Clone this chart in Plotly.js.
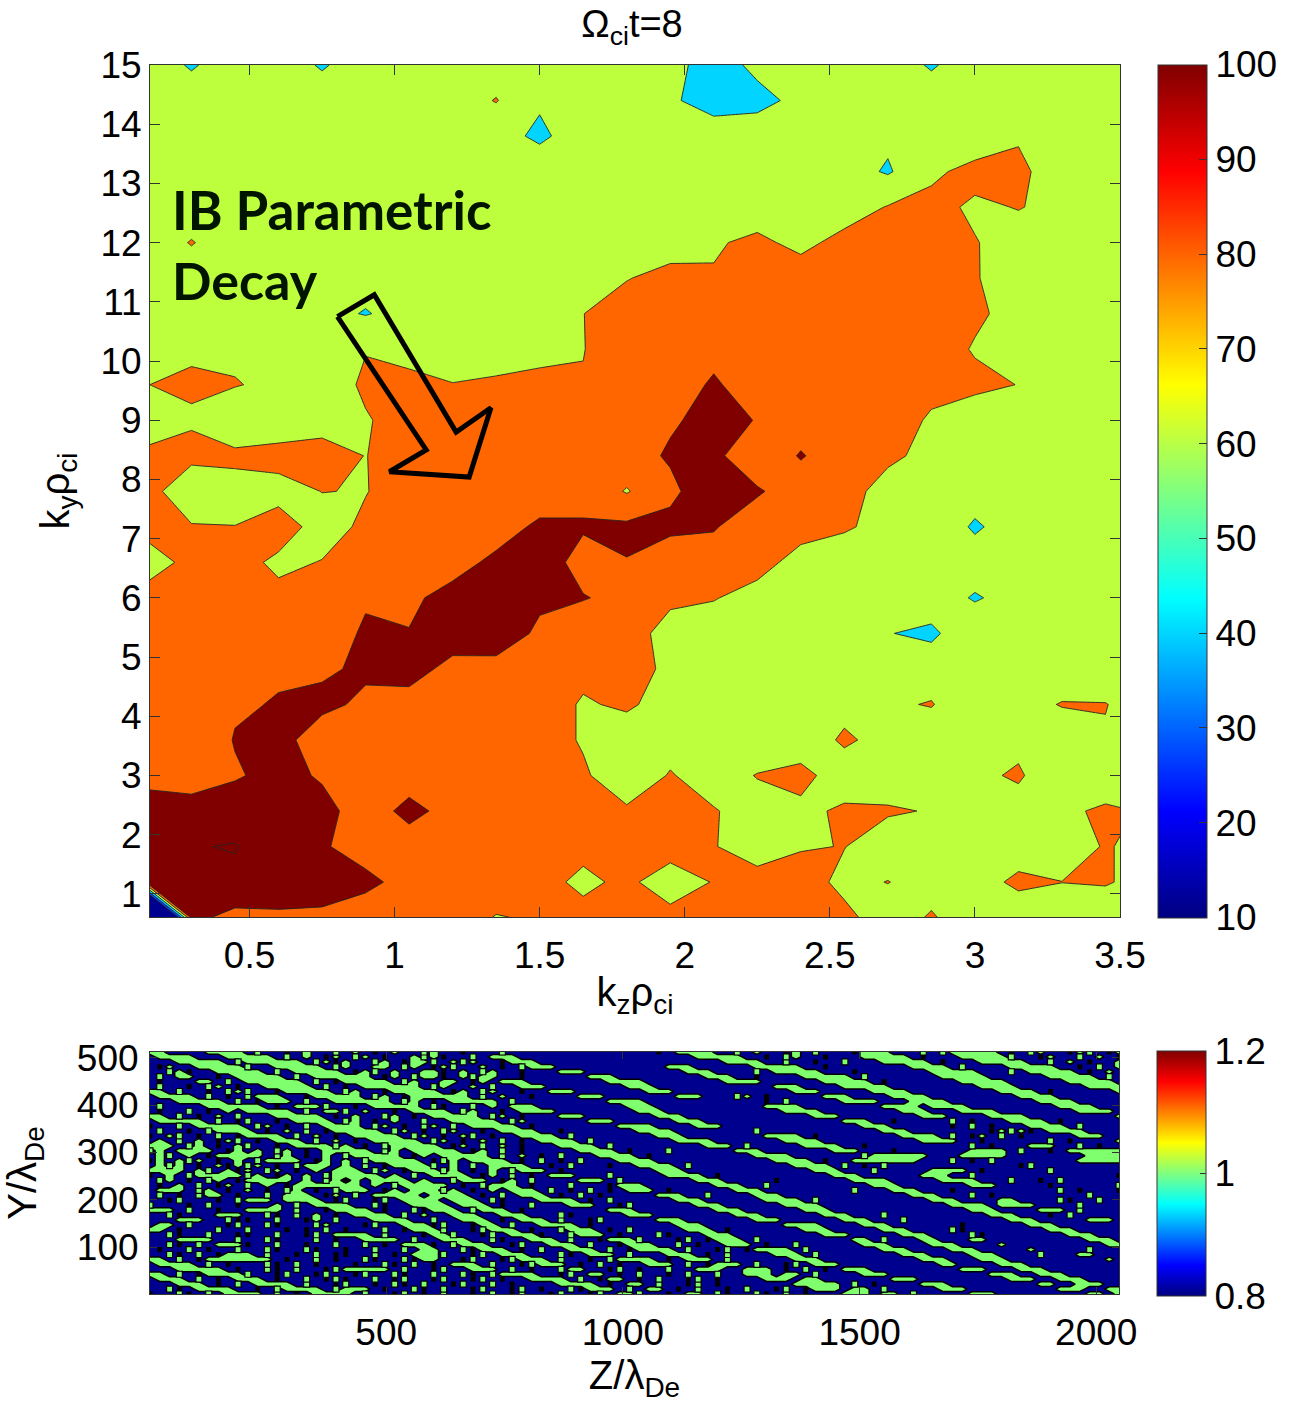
<!DOCTYPE html>
<html><head><meta charset="utf-8">
<script src="https://cdn.plot.ly/plotly-3.0.1.min.js"></script>
<style>html,body{margin:0;padding:0;background:#fff}</style></head>
<body><div id="plot" style="width:1292px;height:1403px"></div>
<script>
const kz=[0.15,0.30,0.45,0.60,0.75,0.90,1.05,1.20,1.35,1.50,1.65,1.80,1.95,2.10,2.25,2.40,2.55,2.70,2.85,3.00,3.15,3.30,3.45,3.60];
const ky=[0.6,1.2,1.8,2.4,3.0,3.6,4.2,4.8,5.4,6.0,6.6,7.2,7.8,8.4,9.0,9.6,10.2,10.8,11.4,12.0,12.6,13.2,13.8,14.4,15.0];
const spectrum=[
[-180,105,94,97.6,97,84,90,90,79,82,86,90,86,90,90,90,85,70,82,68,65,70,68,70],
[115,112,116,108,107,107,90,90,90,86,76,84,70,81,88,89,75,80.5,72,70,85,80.2,81.5,74],
[110,119,121,107,103,88,91.5,90,90,90,85,90,88.5,81,70,78.5,80.5,70,70,70,68,70,81.5,74],
[115,109,111,110,106,91,105,94,90,90,90,83,90,81.4,71,74,84,82,79,70,70,75.3,84,78],
[90,90,98,106,98,90,92,90,90,90,83,66,81.5,70,81,88,66,70,70,75,83,62,64,70],
[90,86,101,108,88,90,90,90,90,90,78,69,72,70,65,64.5,84,71,69,70,74,63,77.4,70],
[90,90,98,101,105,96,92,88,90,90,78,83,72,70,70,70,72,77.6,81,67,70,81.5,81,65],
[90,90,90,98,97,103.3,108,94,93,90,85,90,75,70,70,70,70,70,72,70,70,63,61,70],
[90,90,90,90,90,102.5,101,110,112,96.3,88,92,70,65,70,70,70,60.7,56,75,70,70,70,70],
[87,90,90,87,90,98,95,109,110,103.6,101,95,85,81.5,70,70,70,70,71,58,68,70,70,70],
[72,85,90,74.6,81,90,90,90,106,110,93,99.3,86,88,90,70,65,70,70,71,70,70,70,70],
[86,81.4,80.3,93,69,85,90,90,88,105,102,104,105,102,85,90,83,72,76,57,71,70,70,70],
[87,66,73,70,80.5,79,92,90,90,85,94,78.5,96,112,103,86,90,70,70,70,70,70,70,70],
[85,85,84,90,90,79.5,90,90,90,90,90,93,102,106,82,102,85,85,73,70,70,70,70,70],
[68,78,66,62,70,78,90,90,90,90,90,90,98,105,99.4,88,90,88,78,65,70,70,70,70],
[79.9,82.3,81,76,66,84,88,80.6,83.3,89,81,90,92,102,92,90,90,90,84.5,86,79.5,70,70,70],
[70,77.8,76.5,70,70,79,70,70,70,70,79.5,90,90,95.5,90,90,90,90,92,78,70,70,70,70],
[70,70,70,70,65,59,66,70,70,70,79.7,91,90,90,90,90,90,90,90,84,72,70,70,70],
[70,70,70,70,70,66,70,70,70,70,70,79,87,81.5,90,90,90,90,90,82,65,70,70,70],
[70,81,70,70,70,70,70,70,70,70,70,70,70,78,84,75,86,90,90,81.2,70,70,70,70],
[70,70,70,70,70,70,70,70,70,70,70,70,70,70,70,70,70.6,81,87.5,76,81,74,70,70],
[70,70,70,70,70,70,70,70,70,70,70,70,70,70,70,70,68,58,75,88,87,63,70,70],
[70,70,70,70,70,70,70,70,66,57,68,70,70,79,77,70,70,63.5,70,63,77,70,70,70],
[70,70,70,70,70,70,70,70,81,62,70,70,65,45,51,68,70,70,70,70,70,70,70,70],
[70,58,70,70,58,70,70,70,70,70,70,70,70,46,67,70,70,70,58,70,70,70,70,70]
];
const arrowKz=[0.803,0.930,1.212,1.332,1.257,0.982,1.109,0.803];
const arrowKy=[10.75,11.12,8.80,9.21,8.04,8.13,8.50,10.75];
// density map, top row first: '#' above 1, '.' below 1; ':' a black speck, ';' a green speck, both on a '.' cell
const densityRows=[
"##....#### .;..:.#..; .#.:.#..;# ..:...;... .......... ..:.####.. ;.#..:#.;. ..:###...; .;#####.:. ;#..:#;.:#",
".####...## ###.;.#.:# .;#.:..#;# :..;.###.. .......... ......#### #..:.;#..: ...#####.: ...#####;. .:#..;.#.:",
"...#####.; ######.;#: #..;#.:##; .#;#..:### .......... .........# ###..;..:. .;...##### .:...##### ..;.#.:..#",
".:#..##### ;..#####.; #..##.;#.: #;..#.:.;# ##........ ...###.... ..#####..: ........## ##.;....## ###..:.;.#",
"..;#:..### ##.;.##### .:#;.#..## :.#.;#..:. ..###..... .....###.. ..;.#####. ..:....... #####...;. #####.:.#.",
".;.##..:.# ####.;.### ###.:#.;## :.#;##..:. .....###.. .......### ..:....### ##.;...... .#####.... ..#####.;.",
".:...##.;. ######.;.: #####.;#.. ##.:#.###. .......### #........# ###......# ####.:.... ...#####.. ....#####.",
".;..:.;#.: ..#####.;. :.######.; #..#.;..## #........# ##........ ....###... .#####.... .....####. ......####",
"##.;..:.;# ;..:#####. ;#..:##### .:#.;#..:. .###...... .###...... ......###. ....####.. .......### #.:......#",
".####.;.:. ;###..:### ##.;#.:### ###.;.#..: ....###... ....###... ;#.:.....# ##....#### .........# ###.......",
"...#####.; .:###.;..# #####.;#.: .#####.;.. .......### #......... ...:.;.... .####...## ##........ .####.....",
".;....#### ##.:.###;. .:.#####.; :..;.#.### .........# ##........ ...####... .....####. ####...... ...####...",
".:..;.:.#. #####.;.## ;.#..:.### #.;#..:.## ##........ ###....... .....####. .......### ...####... .....####.",
"##.;.:.#.; ...#####.: .#..;#.:.# ####.;#.:. ..###..... ..###..... ........## #........# ##....#### .........#",
".#####.;.: ;..:.####. ;#.:.#..;. .#####.;#. .....###.. ....###... .......... .###..:... ..;.:...## ##.:......",
":..;.##### .;#.:.;.## ##.;#.:.;# .;.#####.: ........## ##....###. .......... ...###.... ..:.;.:... ####.;....",
".;..:.;### #.:.#.;.:# ####.;#.:. ;#..:.#### ..:....... ####...... ..;....... .....###.. ......:#;# :.####....",
":.#;.:.;.: ####.;.#.: .#####.;#. :.#;.:..## ##.;...... ..###..... ...####.:. .......### #.;.:#.;.: .....###..",
".#.;.#.:#; .:.###.;.# .:.#####.; #.:.#.;.:. ####.;.... ....####.. .....####. .........# ###..:.... ..;.:....#",
"###.;#.:.# ;..:.####; #.:.;##### .:#.;.#.:. ..####.;.. .......### .;.....### #..:...... ....;.:... ###..;.:..",
";#.####.:# .#.;#.:.## ###.;#.### ##.:#.;.:. ....####.: ...;...... ###....... ###...:... ....####.; ..:.######",
".#;.#.:### ##.;#.:.#. ;#####.:#. #####.;.#. :.;...#### .:........ ..####.... ...;###### ...#####.. ......####",
":#.#;#.:.# .;####.:#. #.;#####.: ;#.####.:. ;.:.;...## ##........ ....####.: ..#######. ..;.:.;... .....#####",
".#;#.:.#:# ;#.:.;###. #.;.:####; .#.;.####. .:.;...:.. ####.;.... ......#### .;.:.;.... .........: ;.........",
"####.#;.#: #.;#.:.#.# ##.;#.:### ;#.:.#.;## #.:....... ..###..... ........## #...;..... ####.:.... ..;.......",
":.#.;##### ;#.:#.#.;# ####.#.;.# ###.:#.;.: .###...;.. ...####.:. .......... ###......# ##..;..... .........:",
".;#.:.;#.: #####.#.;# :#.####.#. .;###.:#.; ....###.;. ......###. ....:..... ..####.... .####...;. .:.;......",
".:.#.;.:#. ;.#.:##### ##.#.;#### #.:.;###.: ...;...:## #.......## #..;...... ....###... ....###... ..:......;",
".###.;#.:. #.:.;#.:.; ###.:#.### ;#.:.#.### .;.:.;.:.# ##.:...... ###....... ..;...###. ..:....... ...;.:...:",
".;.:.;##.: ..;.###.:# .;.#####.# ###.:.;.## #.:.;.:... ..###..;.. ..###..... ........## #...;.:... ......;...",
"..:;...:.; ###.####.: ;..:;.#### .###.;:... ####.:.;.. ....###... ...####.;. .......... ###....##. ...;:..;..",
";...:.;..: ...#.;.### #..;:..### #.###.:..; ...###..:; ......###. .....####. .......... ..####.### #....;....",
"###.;..:.. ####.;..:# ###.:..;:# ##.;###.:. .......### ........## #......### .......... ....###... .###.;....",
"..;:...### ..;:.;.#.: .####.;.#. .###..###. ..;:.....# ##........ ###......# ##...;.... ......###. ..:.;.....",
"...###..;: :..;..:#.; ...####..; ..###.:.## #.;..:;... ..###..... ..###..... .###...;.. ........## #.....###.",
".##.;...:; ..;:...;#. ..:;..###: ;..:##.;.. ####.:.... ....###... .....####. ...###.... ...:...... ###.......",
"##.:...;.. ;...:.:.;. :...;.:### ;..:;###.: ..;###.:.; .....###.: .......### .....###.. ..;:...... ..###.....",
"..;:..;..: :..;..:;.# ###.;...:# #;..:;.### :..;###.:. ..;:...### .........# ##.....### ....;:.... ....###...",
"...####..; ..;:...;.: ..####.;.. ###..;:..# ##.;..:### ;...:;.:## #.;....... ..##.;...# #...##.... ......###.",
"..;:.;.### :..;..:..; ..;.:.###: .;###..:;. .###.;..:# ##..;.:..# ##.:..;... ...###.... ###....#.. ........##",
".:..;.:..; ..;:..;:.. :..;..;.## ..;:###.:. ;..###.;.: ####.;..:; .:####.;.. .....###.. ..###..... #.....;...",
"..;:.;.:## #.;..:.;.: :..;.:.### ;..:;.###. ..;:.###.; ...###.:.; ....###.;. .......### ....###... .;...##...",
"##.;.:#### ###.:..;.: ..;:..;:## ..:;..:;## #.;..:.;## ##.:.###.; ......###. .........# ##...###.. ........#.",
".####.;.:. ..;:.;.:.. .:..;:.;.: .###.;..:; ###.:.;.:. .###.;.:## #.;..:;.## #......... .##....### ..........",
"...#####.: ..;:.;..:; #####.;..: ;..###.;.: ..;##..:;. :..;..###. .###.:.;.: .###...... ...###...# ##........",
"##.;.:#### ;..:;..:;. .:;..;:..; ..;:.;#### ..:;.##.:. ;..:.;..;. .###.##.;. ...###.... ......###. .###......",
".###.;.:.# ##.:..;.:; :..;.:;..: ;..:;.:..# ###.;.:##. :.;..:;.:. ...###.##. ......###. ........## #..###....",
"...###.:.; .####.;..: ;..:.;:.;. .:;..;.:.. ..####.:.# #.;..:;.:. ......#### #.;.:....# ##........ .##..###..",
"..;:.####. .:.;####.; ###.:..;:. ;..:;..:;. :..;:###.; .##.:.;..: .;..:;.:## #.##.;.... .###...... ...###..##",
":..;:.;.## ##.;.:.### #.;..:;.:. ;..:.;.:;. .:;..:;.## ;..:.##.;: ..;:.;.:.. .###.##.;. ....###... ......##.#"
];
const densityLevels={'#':1.09,'.':0.9,':':0.9,';':0.9};
const kzTicks=[0.5,1,1.5,2,2.5,3,3.5];
const kyTicks=[1,2,3,4,5,6,7,8,9,10,11,12,13,14,15];
const zTicks=[500,1000,1500,2000];
const yTicks=[100,200,300,400,500];

const cells=densityRows.slice().reverse().map(r=>r.replace(/ /g,'').padEnd(100,'.').slice(0,100).split(''));
const densityZ=cells.map(r=>r.map(c=>densityLevels[c]));
const dz=2047/99, dy=511/49;
const speck={':':{x:[],y:[]},';':{x:[],y:[]}};
cells.forEach((r,j)=>r.forEach((c,i)=>{ if(speck[c]){speck[c].x.push(1+i*dz);speck[c].y.push(1+j*dy);} }));
const W=1292,H=1403,FONT='"Liberation Sans",Arial,sans-serif';
const jet=[[0,'#000080'],[0.125,'#0000ff'],[0.375,'#00ffff'],[0.625,'#ffff00'],[0.875,'#ff0000'],[1,'#800000']];
const px=v=>v/W, py=v=>1-v/H;
const axisBase={showgrid:false,zeroline:false,showline:true,mirror:'allticks',linecolor:'#333',linewidth:1,ticks:'inside',ticklen:10,tickcolor:'#333',tickfont:{size:37,family:FONT,color:'#000'}};

const traces=[
{type:'contour',x:kz,y:ky,z:spectrum,autocontour:false,showscale:false,hoverinfo:'skip',
 contours:{start:20,end:120,size:20,coloring:'fill',showlines:true},line:{color:'#222',width:0.9,smoothing:0},
 colorscale:[[0,'#00008f'],[1/6,'#0040ff'],[2/6,'#00d4ff'],[3/6,'#bdff3c'],[4/6,'#ff6600'],[5/6,'#800000'],[1,'#800000']],xaxis:'x',yaxis:'y'},
{type:'scatter',mode:'lines',x:arrowKz,y:arrowKy,line:{color:'#000',width:5},hoverinfo:'skip',showlegend:false,xaxis:'x',yaxis:'y'},
{type:'contour',x0:1,dx:dz,y0:1,dy:dy,z:densityZ,autocontour:false,showscale:false,hoverinfo:'skip',
 contours:{start:0.8,end:1.2,size:0.2,coloring:'fill',showlines:true},line:{color:'#000',width:1.5,smoothing:0},
 colorscale:[[0,'#000060'],[1/3,'#00008f'],[2/3,'#80ff6e'],[1,'#800000']],xaxis:'x2',yaxis:'y2'},
{type:'scatter',mode:'markers',x:speck[':'].x,y:speck[':'].y,hoverinfo:'skip',showlegend:false,xaxis:'x2',yaxis:'y2',
 marker:{symbol:'square',size:5,color:'#000'}},
{type:'scatter',mode:'markers',x:speck[';'].x,y:speck[';'].y,hoverinfo:'skip',showlegend:false,xaxis:'x2',yaxis:'y2',
 marker:{symbol:'square',size:6,color:'#80ff6e',line:{color:'#000',width:1.2}}},
{type:'scatter',mode:'markers',x:[null],y:[null],hoverinfo:'skip',showlegend:false,xaxis:'x',yaxis:'y',
 marker:{color:[10],cmin:10,cmax:100,colorscale:jet,showscale:true,
  colorbar:{x:px(1158),xanchor:'left',xpad:0,ypad:0,y:py(491),yanchor:'middle',len:853/H,lenmode:'fraction',thickness:49,thicknessmode:'pixels',outlinecolor:'#333',outlinewidth:1,
   tickmode:'array',tickvals:[10,20,30,40,50,60,70,80,90,100],ticks:'inside',ticklen:8,tickcolor:'#333',tickfont:{size:37,family:FONT,color:'#000'}}}},
{type:'scatter',mode:'markers',x:[null],y:[null],hoverinfo:'skip',showlegend:false,xaxis:'x2',yaxis:'y2',
 marker:{color:[1],cmin:0.8,cmax:1.2,colorscale:jet,showscale:true,
  colorbar:{x:px(1157),xanchor:'left',xpad:0,ypad:0,y:py(1173.5),yanchor:'middle',len:245/H,lenmode:'fraction',thickness:49,thicknessmode:'pixels',outlinecolor:'#333',outlinewidth:1,
   tickmode:'array',tickvals:[0.8,1,1.2],ticktext:['0.8','1','1.2'],ticks:'inside',ticklen:6,tickcolor:'#333',tickfont:{size:37,family:FONT,color:'#000'}}}}
];
const layout={width:W,height:H,margin:{l:0,r:0,t:0,b:0},paper_bgcolor:'#fff',plot_bgcolor:'#fff',showlegend:false,font:{family:FONT,color:'#000'},
 title:{text:'Ω<sub>ci</sub>t=8',x:632/W,xanchor:'center',y:py(24),yanchor:'middle',font:{size:38,family:FONT,color:'#000'}},
 xaxis:Object.assign({},axisBase,{domain:[px(150),px(1120)],range:[0.157,3.5],tickvals:kzTicks,ticktext:kzTicks.map(String),anchor:'y',ticklabelstandoff:6,
  title:{text:'k<sub>z</sub>ρ<sub>ci</sub>',font:{size:40,family:FONT,color:'#000'},standoff:2}}),
 yaxis:Object.assign({},axisBase,{domain:[py(917),py(65)],range:[0.61,15],tickvals:kyTicks,ticktext:kyTicks.map(String),anchor:'x',
  title:{text:'k<sub>y</sub>ρ<sub>ci</sub>',font:{size:40,family:FONT,color:'#000'},standoff:18}}),
 xaxis2:Object.assign({},axisBase,{domain:[px(150),px(1119)],range:[1,2048],tickvals:zTicks,ticktext:zTicks.map(String),anchor:'y2',ticklen:7,ticklabelstandoff:6,
  title:{text:'Z/λ<sub>De</sub>',font:{size:40,family:FONT,color:'#000'},standoff:0}}),
 yaxis2:Object.assign({},axisBase,{domain:[py(1294),py(1052)],range:[1,512],tickvals:yTicks,ticktext:yTicks.map(String),anchor:'x2',ticklen:7,ticklabelstandoff:3,
  title:{text:'Y/λ<sub>De</sub>',font:{size:40,family:FONT,color:'#000'},standoff:28}}),
 annotations:[
  {text:'<b>IB Parametric</b>',xref:'paper',yref:'paper',x:px(170),y:py(210),xanchor:'left',yanchor:'middle',showarrow:false,font:{size:53,family:'Lato,sans-serif',color:'#001400'}},
  {text:'<b>Decay</b>',xref:'paper',yref:'paper',x:px(170),y:py(280),xanchor:'left',yanchor:'middle',showarrow:false,font:{size:52,family:'Lato,sans-serif',color:'#001400'}}
 ]};
Plotly.newPlot('plot',traces,layout,{displayModeBar:false,responsive:false});
</script></body></html>
